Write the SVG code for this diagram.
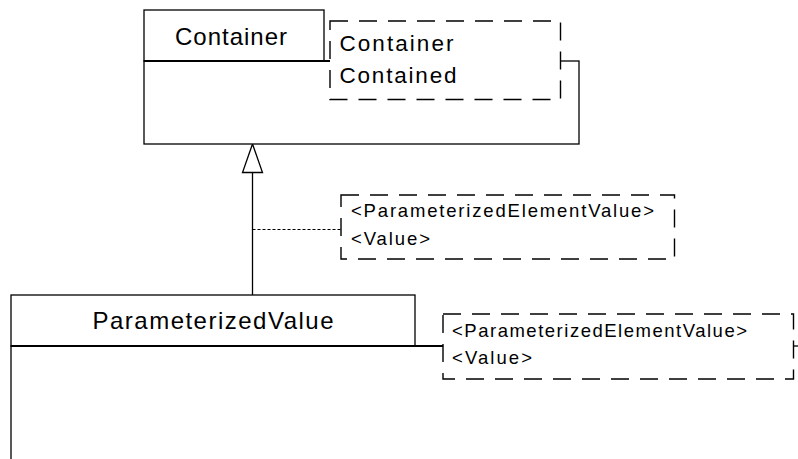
<svg xmlns="http://www.w3.org/2000/svg" width="798" height="459" viewBox="0 0 798 459">
<defs>
<style>
.box{fill:#fff;stroke:#000;stroke-width:1.3}
.div{fill:none;stroke:#000;stroke-width:1.8}
.tpl{fill:#fff;stroke:#000;stroke-width:1.4;stroke-dasharray:18 11}
.t{font-family:"Liberation Sans",Arial,sans-serif;fill:#000}
.big{font-size:24px}
.mid{font-size:22.5px}
.sm{font-size:18.5px}
.conn{fill:none;stroke:#000;stroke-width:1.3}
.dot{fill:none;stroke:#000;stroke-width:1;stroke-dasharray:3 2}
</style>
</defs>
<rect width="798" height="459" fill="#fff"/>

<g id="connectors">
<line class="conn" x1="252.5" y1="172.5" x2="252.5" y2="295"/>
<polygon class="conn" fill="#fff" points="252.5,144 242.5,172.5 262.5,172.5"/>
<line class="dot" x1="252.5" y1="229.5" x2="341" y2="229.5"/>
</g>

<g id="container">
<rect class="box" x="144" y="61" width="435" height="83"/>
<rect class="box" x="144" y="10" width="180" height="51"/>
<line class="div" x1="144" y1="61" x2="330" y2="61"/>
<text class="t big" x="231" y="45" text-anchor="middle" textLength="112" lengthAdjust="spacing">Container</text>
</g>

<g id="container-template">
<rect class="tpl" x="330" y="21" width="230.5" height="78.5"/>
<text class="t mid" x="339.5" y="51" textLength="114" lengthAdjust="spacing">Container</text>
<text class="t mid" x="339.5" y="83" textLength="117" lengthAdjust="spacing">Contained</text>
</g>

<g id="binding-note">
<rect class="tpl" x="341" y="195" width="333.5" height="64"/>
<text class="t sm" x="351" y="217" textLength="303" lengthAdjust="spacing">&lt;ParameterizedElementValue&gt;</text>
<text class="t sm" x="351" y="245" textLength="79" lengthAdjust="spacing">&lt;Value&gt;</text>
</g>

<g id="parameterized-value">
<rect class="box" x="11" y="346" width="820" height="160"/>
<rect class="box" x="11" y="295" width="404" height="51"/>
<line class="div" x1="11" y1="346" x2="443" y2="346"/>
<text class="t big" x="213" y="328.5" text-anchor="middle" textLength="241" lengthAdjust="spacing">ParameterizedValue</text>
</g>

<g id="parameterized-value-template">
<rect class="tpl" x="443" y="314" width="350.5" height="65"/>
<text class="t sm" x="452" y="336.5" textLength="295" lengthAdjust="spacing">&lt;ParameterizedElementValue&gt;</text>
<text class="t sm" x="452" y="363.5" textLength="80" lengthAdjust="spacing">&lt;Value&gt;</text>
</g>
</svg>
